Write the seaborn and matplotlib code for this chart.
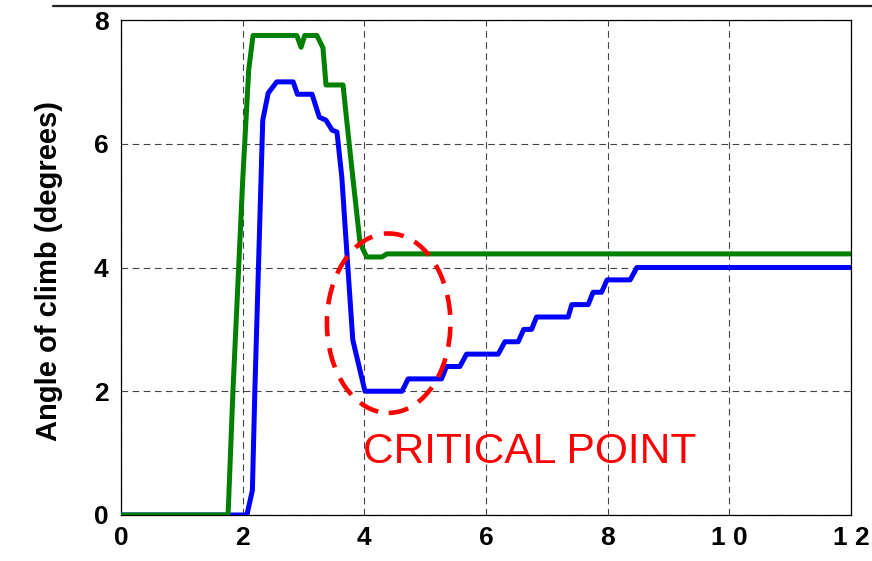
import matplotlib
matplotlib.use("Agg")
import matplotlib.pyplot as plt
from matplotlib.patches import Ellipse
from matplotlib.lines import Line2D
import seaborn as sns
import pandas as pd

# ---- data ----
green_t = [0, 1.76, 1.84, 2.0, 2.1, 2.17, 2.89, 2.96, 3.02, 3.22, 3.32, 3.37,
           3.65, 3.71, 3.81, 3.93, 4.04, 4.29, 4.37, 12]
green_y = [0, 0, 2.0, 5.4, 7.2, 7.75, 7.75, 7.56, 7.75, 7.75, 7.55, 6.95,
           6.95, 6.38, 5.46, 4.39, 4.17, 4.17, 4.22, 4.22]

blue_t = [0, 2.07, 2.16, 2.2, 2.33, 2.42, 2.56, 2.83, 2.9, 3.14, 3.26, 3.37,
          3.47, 3.55, 3.63, 3.71, 3.81, 4.01, 4.62, 4.72, 5.27, 5.35, 5.57,
          5.68, 6.2, 6.31, 6.53, 6.62, 6.75, 6.83, 7.35, 7.41, 7.68, 7.76,
          7.9, 7.99, 8.37, 8.48, 12]
blue_y = [0, 0, 0.4, 2.0, 6.38, 6.82, 7.0, 7.0, 6.8, 6.8, 6.43, 6.38,
          6.22, 6.19, 5.46, 4.28, 2.83, 2.0, 2.0, 2.2, 2.2, 2.4, 2.4,
          2.6, 2.6, 2.8, 2.8, 3.0, 3.0, 3.2, 3.2, 3.4, 3.4, 3.6,
          3.6, 3.8, 3.8, 4.0, 4.0]

x_ticks = [0, 2, 4, 6, 8, 10, 12]
x_tick_labels = ["0", "2", "4", "6", "8", "1 0", "1 2"]
y_ticks = [0, 2, 4, 6, 8]
y_tick_labels = ["0", "2", "4", "6", "8"]

annotation_text = "CRITICAL POINT"
ellipse_center = (4.40, 3.10)
ellipse_size = (2.03, 2.9)

y_label = "Angle of climb (degrees)"

# ---- style ----
sns.set_style("white")
plt.rcParams["font.family"] = ["Liberation Sans", "DejaVu Sans"]
plt.rcParams["text.color"] = "black"
plt.rcParams["axes.labelcolor"] = "black"
plt.rcParams["xtick.color"] = "black"
plt.rcParams["ytick.color"] = "black"

fig = plt.figure(figsize=(8.72, 5.61), dpi=100)
ax = fig.add_axes([121 / 872, 1 - 515 / 561, 730 / 872, 495 / 561])

df_blue = pd.DataFrame({"t": blue_t, "y": blue_y})
df_green = pd.DataFrame({"t": green_t, "y": green_y})

sns.lineplot(data=df_blue, x="t", y="y", sort=False, estimator=None,
             color="#0000FF", linewidth=3.6, ax=ax, zorder=3)
sns.lineplot(data=df_green, x="t", y="y", sort=False, estimator=None,
             color="#008000", linewidth=3.6, ax=ax, zorder=4)

ell = Ellipse(ellipse_center, ellipse_size[0], ellipse_size[1],
              fill=False, edgecolor="#FF0000", linewidth=3.3,
              linestyle=(0, (4.4, 2.6)), zorder=5)
ax.add_patch(ell)

ax.text(3.98, 0.84, annotation_text, color="#FF0000", fontsize=30.6,
        ha="left", va="baseline", zorder=6)

ax.set_xlim(0, 12)
ax.set_ylim(0, 8)
ax.set_xticks(x_ticks)
ax.set_xticklabels(x_tick_labels, fontsize=19, fontweight="bold", color="black")
ax.set_yticks(y_ticks)
ax.set_yticklabels(y_tick_labels, fontsize=19, fontweight="bold", color="black")
ax.tick_params(axis="both", direction="in", length=4, width=0.8, color="black")
ax.tick_params(axis="x", pad=8)
ax.tick_params(axis="y", pad=9)

ax.set_xlabel("")
ax.set_ylabel(y_label, fontsize=21, fontweight="bold", color="black")
ax.yaxis.set_label_coords(-0.0795, 0.492)

ax.grid(True, color="#444444", linestyle=(0, (6, 4)), linewidth=0.8)
ax.set_axisbelow(True)
for s in ax.spines.values():
    s.set_color("black")
    s.set_linewidth(0.9)
    s.set_visible(True)

fig.add_artist(Line2D([53 / 872, 1.0], [1 - 6 / 561, 1 - 6 / 561],
                      color="#222222", linewidth=1.6))

fig.savefig("out.png", dpi=100)
